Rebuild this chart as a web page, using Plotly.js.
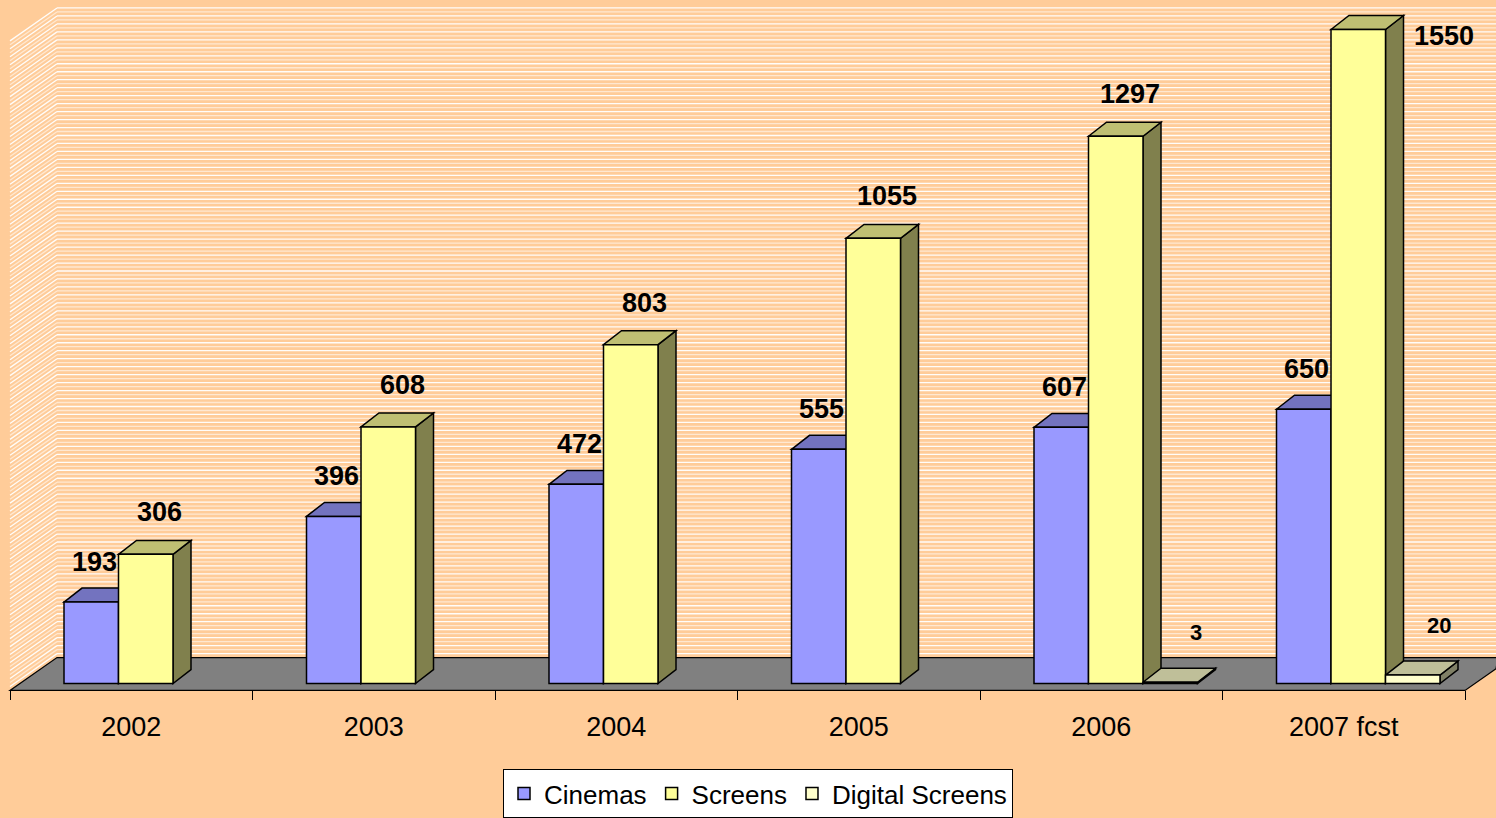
<!DOCTYPE html>
<html>
<head>
<meta charset="utf-8">
<script src="https://cdn.plot.ly/plotly-3.0.1.min.js"></script>
<style>html,body{margin:0;padding:0;background:#FFCC99;}#chart{width:1496px;height:818px;}</style>
</head>
<body>
<div id="chart"></div>
<script>
// ---------------- DATA ----------------
const categories = ['2002', '2003', '2004', '2005', '2006', '2007 fcst'];
const cinemas = [193, 396, 472, 555, 607, 650];
const screens = [306, 608, 803, 1055, 1297, 1550];
const digitalScreens = [null, null, null, null, 3, 20];

// ---------------- STYLE / GEOMETRY ----------------
const W = 1496, H = 818;
const FONT = 'Arial, "Liberation Sans", sans-serif';
const CAT_PX = 242.5;        // pixels per category
const LEFT_PX = 10;          // pixel of first category boundary
const BASE_PX = 686;         // pixel row of value 0 on bar fronts
const K = 0.4235;            // pixels per unit value
const FLOOR_FRONT_PX = 693, FLOOR_BACK_PX = 660, WALL_TOP_PX = 7;
const DEPTH_X_PX = 18, DEPTH_Y_PX = 14;  // bar depth
const WALL_DX = 47;          // wall / floor depth shift

const xmin = -0.5 - LEFT_PX / CAT_PX;
const xmax = -0.5 + (W - LEFT_PX) / CAT_PX;
const ymax = BASE_PX / K;
const ymin = (BASE_PX - H) / K;
const dX = DEPTH_X_PX / CAT_PX;
const dY = DEPTH_Y_PX / K;
const barW = 54.5 / CAT_PX;

const series = [
  {name: 'Cinemas', values: cinemas, off: 54 / CAT_PX - 0.5, front: '#9999FF', top: '#7373BF', side: '#4D4D80',
   lblSize: 27, lblDx: -15, lblDy: 40},
  {name: 'Screens', values: screens, off: 108.5 / CAT_PX - 0.5, front: '#FFFF99', top: '#BFBF73', side: '#80804D',
   lblSize: 27, lblDx: -4, lblDy: 42},
  {name: 'Digital Screens', values: digitalScreens, off: 163 / CAT_PX - 0.5, front: '#FFFFCC', top: '#BFBF99', side: '#808066',
   lblSize: 22, lblDx: 8, lblDy: 50}
];

const px = x => x / W;
const py = y => 1 - y / H;
const idx = categories.map((c, i) => i);

// ---------------- BACKGROUND SHAPES (paper) ----------------
const shapes = [];
let brightH = '', faintH = '', brightD = '', faintD = '';
let n = 0;
for (let y = WALL_TOP_PX + 1; y < FLOOR_BACK_PX; y += 4, n++) {
  const h = `M ${px(LEFT_PX + WALL_DX)} ${py(y)} L ${px(W)} ${py(y)} `;
  const d = `M ${px(LEFT_PX)} ${py(y + 33)} L ${px(LEFT_PX + WALL_DX)} ${py(y)} `;
  if (n % 2 === 0) { brightH += h; brightD += d; } else { faintH += h; faintD += d; }
}
shapes.push({type: 'path', xref: 'paper', yref: 'paper', layer: 'below', path: brightH, line: {color: 'rgba(255,255,255,0.95)', width: 1.3}});
shapes.push({type: 'path', xref: 'paper', yref: 'paper', layer: 'below', path: faintH, line: {color: 'rgba(255,255,255,0.55)', width: 1.3}});
shapes.push({type: 'path', xref: 'paper', yref: 'paper', layer: 'below', path: brightD, line: {color: 'rgba(255,255,255,0.95)', width: 1.3}});
shapes.push({type: 'path', xref: 'paper', yref: 'paper', layer: 'below', path: faintD, line: {color: 'rgba(255,255,255,0.55)', width: 1.3}});
// floor
const rightEdgeY = FLOOR_FRONT_PX - (W - 1465) * 33 / WALL_DX;
shapes.push({type: 'path', xref: 'paper', yref: 'paper', layer: 'below',
  path: `M ${px(LEFT_PX)} ${py(FLOOR_FRONT_PX)} L ${px(1465)} ${py(FLOOR_FRONT_PX)} L ${px(W)} ${py(rightEdgeY)} L ${px(W + 2)} ${py(FLOOR_BACK_PX)} L ${px(LEFT_PX + WALL_DX)} ${py(FLOOR_BACK_PX)} Z`,
  fillcolor: '#808080', line: {color: '#000', width: 1.2}});

// ---------------- BAR 3D FACES (data coords) ----------------
idx.forEach(i => {
  series.forEach(s => {
    const v = s.values[i];
    if (v === null || v === undefined) return;
    const L = i + s.off, R = L + barW;
    shapes.push({type: 'path', xref: 'x', yref: 'y', layer: 'below',
      path: `M ${R} ${v} L ${R + dX} ${v + dY} L ${R + dX} ${dY} L ${R} 0 Z`,
      fillcolor: s.side, line: {color: '#000', width: 1.5}});
    shapes.push({type: 'path', xref: 'x', yref: 'y', layer: 'below',
      path: `M ${L} ${v} L ${L + dX} ${v + dY} L ${R + dX} ${v + dY} L ${R} ${v} Z`,
      fillcolor: s.top, line: {color: '#000', width: 1.5}});
  });
});

// ---------------- TRACES ----------------
const traces = series.map(s => ({
  type: 'bar', name: s.name, x: idx, y: s.values,
  offset: s.off, width: barW,
  marker: {color: s.front, line: {color: '#000', width: 1.5}},
  hoverinfo: 'skip'
}));

// ---------------- LABELS ----------------
const annotations = [];
idx.forEach(i => {
  series.forEach(s => {
    const v = s.values[i];
    if (v === null || v === undefined) return;
    const L = i + s.off, R = L + barW;
    const topPx = BASE_PX - v * K;
    const a = {xref: 'x', yref: 'y', y: v, text: String(v), showarrow: false,
      font: {family: FONT, size: s.lblSize, color: '#000', weight: 'bold'}, yanchor: 'middle'};
    if (topPx - s.lblDy - s.lblSize / 2 < 4) {
      a.x = R + dX; a.xanchor = 'left'; a.xshift = 8; a.yshift = -7;
    } else {
      a.x = L + barW / 2 + dX; a.xanchor = 'center'; a.xshift = s.lblDx; a.yshift = s.lblDy;
    }
    annotations.push(a);
  });
});

const boundaries = categories.map((c, i) => i - 0.5).concat([categories.length - 0.5]);

const layout = {
  width: W, height: H,
  margin: {l: 0, r: 0, t: 0, b: 0, pad: 0},
  paper_bgcolor: '#FFCC99', plot_bgcolor: 'rgba(0,0,0,0)',
  font: {family: FONT, color: '#000'},
  barmode: 'overlay',
  hovermode: false,
  xaxis: {
    range: [xmin, xmax], domain: [0, 1], anchor: 'free', position: (H - FLOOR_FRONT_PX) / H,
    tickmode: 'array', tickvals: idx, ticktext: categories,
    ticks: 'outside', ticklen: 10, tickcolor: 'rgba(0,0,0,0)', ticklabelstandoff: 2,
    tickfont: {family: FONT, size: 27, color: '#000'},
    minor: {tickmode: 'array', tickvals: boundaries, ticks: 'outside', ticklen: 9, tickwidth: 1, tickcolor: '#000', showgrid: false},
    showgrid: false, zeroline: false, showline: false, fixedrange: true
  },
  yaxis: {range: [ymin, ymax], domain: [0, 1], visible: false, fixedrange: true},
  shapes: shapes,
  annotations: annotations,
  showlegend: true,
  legend: {
    orientation: 'h', x: 758 / W, xanchor: 'center', y: (H - 772) / H, yanchor: 'top',
    bgcolor: '#FFFFFF', bordercolor: '#000', borderwidth: 1,
    font: {family: FONT, size: 26, color: '#000'}, itemwidth: 30, traceorder: 'normal'
  }
};

Plotly.newPlot('chart', traces, layout, {displayModeBar: false, staticPlot: true});
</script>
</body>
</html>
